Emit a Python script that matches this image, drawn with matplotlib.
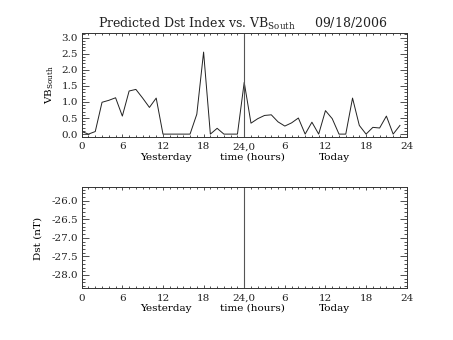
import numpy as np
import matplotlib.pyplot as plt
from matplotlib.ticker import MultipleLocator, FixedLocator

plt.rcParams['font.family'] = 'DejaVu Serif'
plt.rcParams['mathtext.fontset'] = 'dejavuserif'

# hourly VB_south values, yesterday 0..23 then today 0..23
hours = np.arange(48)
vbs = [0.08, 0.0, 0.08, 0.99, 1.05, 1.13, 0.56, 1.34, 1.39, 1.12, 0.83, 1.12,
       0.0, 0.0, 0.0, 0.0, 0.0, 0.62, 2.55, 0.0, 0.18, 0.0, 0.0, 0.0,
       1.61, 0.34, 0.48, 0.58, 0.60, 0.38, 0.25, 0.35, 0.50, 0.0, 0.37, 0.0,
       0.73, 0.48, 0.0, 0.0, 1.12, 0.27, 0.0, 0.21, 0.19, 0.56, 0.0, 0.27]

xticks = [0, 6, 12, 18, 24, 30, 36, 42, 48]
xticklabels = ['0', '6', '12', '18', '24,0', '6', '12', '18', '24']

fg = '#333333'

fig = plt.figure(figsize=(4.53, 3.40), dpi=100)
ax1 = fig.add_axes([0.1804, 0.598, 0.7174, 0.3046])
ax2 = fig.add_axes([0.1804, 0.153, 0.7174, 0.296])


def style(ax):
    ax.set_xlim(0, 48)
    ax.xaxis.set_major_locator(FixedLocator(xticks))
    ax.set_xticklabels(xticklabels)
    ax.xaxis.set_minor_locator(MultipleLocator(1))
    ax.yaxis.set_minor_locator(MultipleLocator(0.1))
    ax.tick_params(axis='both', which='both', direction='in', top=True, right=True,
                   color=fg, width=0.6, labelsize=7.5, labelcolor='#222222')
    ax.tick_params(axis='x', which='major', length=2.2, pad=4)
    ax.tick_params(axis='x', which='minor', length=1.3)
    ax.tick_params(axis='y', which='major', length=4.7, pad=2.5)
    ax.tick_params(axis='y', which='minor', length=2.4)
    for s in ax.spines.values():
        s.set_color(fg)
        s.set_linewidth(0.7)
    ax.axvline(24, color='#555555', lw=0.8)
    tr = ax.get_xaxis_transform()
    ax.text(12.5, -0.2, 'Yesterday', transform=tr, ha='center', va='center', fontsize=7.5)
    ax.text(25.2, -0.2, 'time (hours)', transform=tr, ha='center', va='center', fontsize=7.5)
    ax.text(37.3, -0.2, 'Today', transform=tr, ha='center', va='center', fontsize=7.5)


ax1.plot(hours, vbs, color='#222222', lw=0.7)
ax1.set_ylim(-0.08, 3.14)
ax1.yaxis.set_major_locator(MultipleLocator(0.5))
ax1.yaxis.set_major_formatter(plt.FormatStrFormatter('%.1f'))
style(ax1)

ax2.set_ylim(-28.35, -25.64)
ax2.yaxis.set_major_locator(MultipleLocator(0.5))
ax2.yaxis.set_major_formatter(plt.FormatStrFormatter('%.1f'))
style(ax2)

fig.text(0.535, 1 - 24 / 340, r'Predicted Dst Index vs. VB$_{\mathrm{South}}$     09/18/2006',
         ha='center', va='center', fontsize=9, color='#222222')
fig.text(50 / 453, 1 - 85 / 340, r'VB$_{\mathrm{South}}$', rotation=90,
         ha='center', va='center', fontsize=7.5)
fig.text(38 / 453, 1 - 238 / 340, 'Dst (nT)', rotation=90,
         ha='center', va='center', fontsize=7.5)

fig.savefig('out.png', dpi=100)
